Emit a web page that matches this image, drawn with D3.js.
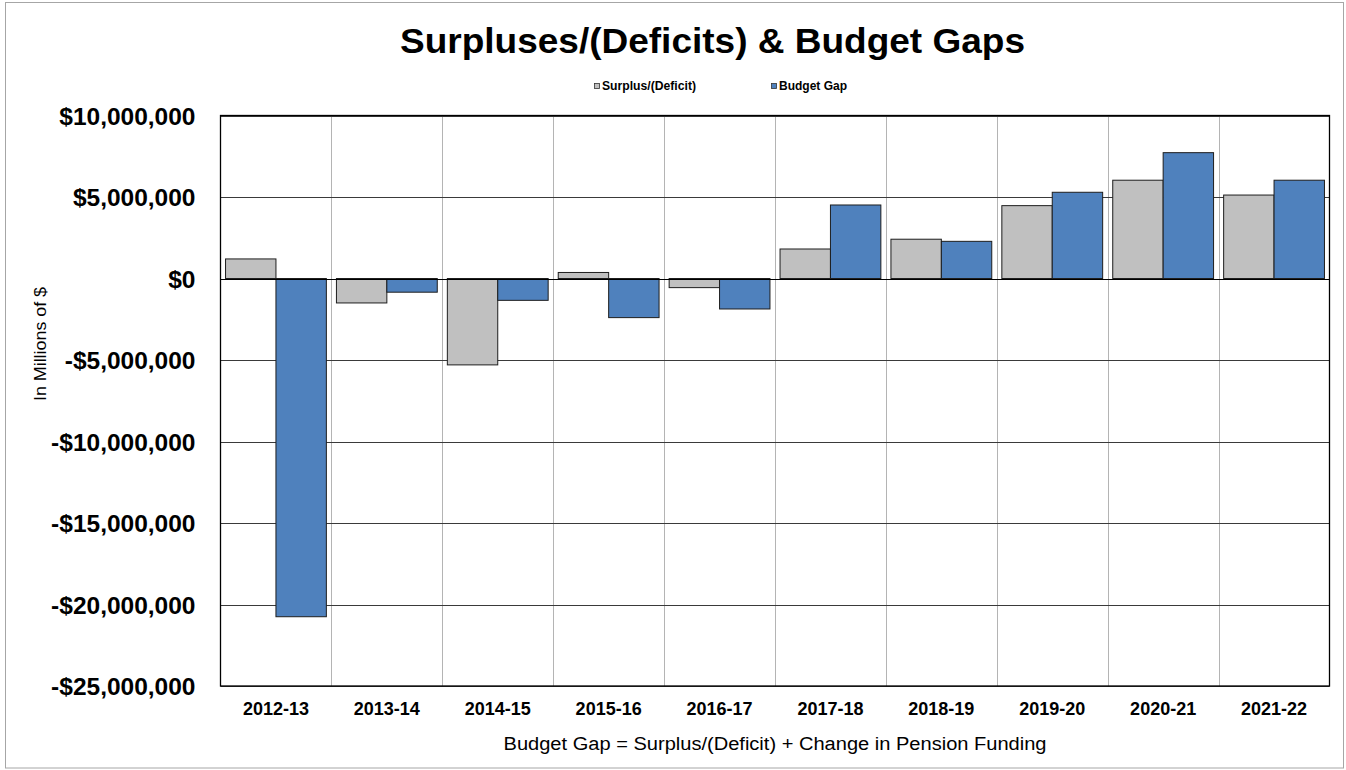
<!DOCTYPE html>
<html>
<head>
<meta charset="utf-8">
<script src="https://cdn.jsdelivr.net/npm/d3@7"></script>
<style>
  html, body { margin: 0; padding: 0; background: #fff; }
  svg { display: block; font-family: "Liberation Sans", Arial, sans-serif; }
</style>
</head>
<body>
<svg id="chart" width="1346" height="770"></svg>
<script>
// Fiscal years shown along the category axis
const years = ["2012-13", "2013-14", "2014-15", "2015-16", "2016-17",
               "2017-18", "2018-19", "2019-20", "2020-21", "2021-22"];

// Series values, in dollars
const surplusDeficit = [1200000, -1500000, -5300000, 370000, -560000,
                        1810000, 2410000, 4470000, 6030000, 5120000];
const budgetGap = [-20750000, -840000, -1340000, -2400000, -1870000,
                   4510000, 2280000, 5290000, 7720000, 6030000];

const seriesNames = ["Surplus/(Deficit)", "Budget Gap"];
const seriesColors = ["#c0c0c0", "#4f81bd"];

// Value-axis ticks
const yTicks = [10000000, 5000000, 0, -5000000, -10000000, -15000000, -20000000, -25000000];

const svg = d3.select("#chart");
const W = 1346, H = 770;
const plot = { left: 220.5, right: 1329.5, top: 115.5, bottom: 686 };

// Outer chart frame
svg.append("rect")
  .attr("x", 5.5).attr("y", 2.5)
  .attr("width", W - 8).attr("height", H - 2.5 - 2)
  .attr("fill", "#fff").attr("stroke", "#a6a6a6").attr("stroke-width", 1);

const x0 = d3.scaleBand().domain(years).range([plot.left, plot.right]).padding(0);
const x1 = d3.scaleBand().domain(seriesNames).range([0, x0.bandwidth()])
  .paddingInner(0).paddingOuter(0.1);
const y = d3.scaleLinear().domain([-25000000, 10000000]).range([plot.bottom, plot.top]);

const fmt = v => (v < 0 ? "-$" : "$") + d3.format(",")(Math.abs(v));

// Vertical category separators
svg.append("g").selectAll("line")
  .data(years.slice(1))
  .join("line")
  .attr("x1", d => Math.round(x0(d)) + 0.5).attr("x2", d => Math.round(x0(d)) + 0.5)
  .attr("y1", plot.top).attr("y2", plot.bottom)
  .attr("stroke", "#b4b4b4").attr("stroke-width", 1);

// Horizontal gridlines
svg.append("g").selectAll("line")
  .data(yTicks)
  .join("line")
  .attr("x1", plot.left).attr("x2", plot.right)
  .attr("y1", d => Math.round(y(d)) + 0.5).attr("y2", d => Math.round(y(d)) + 0.5)
  .attr("stroke", "#3a3a3a").attr("stroke-width", 1);

// Bars
const rows = years.map((yr, i) => ({ year: yr, values: [surplusDeficit[i], budgetGap[i]] }));
const groups = svg.append("g").selectAll("g")
  .data(rows)
  .join("g")
  .attr("transform", d => `translate(${x0(d.year)},0)`);

groups.selectAll("rect")
  .data(d => d.values.map((v, k) => ({ v, k })))
  .join("rect")
  .attr("x", d => x1(seriesNames[d.k]))
  .attr("width", x1.bandwidth())
  .attr("y", d => y(Math.max(0, d.v)))
  .attr("height", d => Math.abs(y(d.v) - y(0)))
  .attr("fill", d => seriesColors[d.k])
  .attr("stroke", "#1e1e1e").attr("stroke-width", 1);

// Zero line
svg.append("line")
  .attr("x1", plot.left).attr("x2", plot.right)
  .attr("y1", Math.round(y(0)) + 0.5).attr("y2", Math.round(y(0)) + 0.5)
  .attr("stroke", "#000").attr("stroke-width", 1.2);

// Plot frame
svg.append("rect")
  .attr("x", plot.left).attr("y", plot.top)
  .attr("width", plot.right - plot.left).attr("height", plot.bottom - plot.top)
  .attr("fill", "none").attr("stroke", "#000").attr("stroke-width", 1.3);

// Value axis labels
const yAxis = d3.axisLeft(y).tickValues(yTicks).tickFormat(fmt).tickSize(0).tickPadding(0);
const yg = svg.append("g").attr("transform", `translate(${plot.left - 25},0)`).call(yAxis);
yg.select(".domain").remove();
yg.selectAll("text")
  .attr("font-family", "'Liberation Sans', Arial, sans-serif")
  .attr("font-size", 24.5).attr("font-weight", "bold").attr("fill", "#000")
  .attr("dy", "0.35em");

// Category axis labels
const xAxis = d3.axisBottom(x0).tickSize(0).tickPadding(0);
const xg = svg.append("g").attr("transform", `translate(0,${plot.bottom})`).call(xAxis);
xg.select(".domain").remove();
xg.selectAll("text")
  .attr("font-family", "'Liberation Sans', Arial, sans-serif")
  .attr("font-size", 18).attr("font-weight", "bold").attr("fill", "#000")
  .attr("y", 29).attr("dy", 0);

// Title
svg.append("text")
  .attr("x", 712.5).attr("y", 53)
  .attr("text-anchor", "middle")
  .attr("font-size", 35).attr("font-weight", "bold")
  .attr("textLength", 625).attr("lengthAdjust", "spacingAndGlyphs")
  .text("Surpluses/(Deficits) & Budget Gaps");

// Legend
const legendItems = [
  { name: seriesNames[0], color: seriesColors[0], x: 594, w: 94 },
  { name: seriesNames[1], color: seriesColors[1], x: 771, w: 68 }
];
const lg = svg.append("g").selectAll("g").data(legendItems).join("g")
  .attr("transform", d => `translate(${d.x},0)`);
lg.append("rect")
  .attr("x", 0.5).attr("y", 83.5).attr("width", 5).attr("height", 5)
  .attr("fill", d => d.color).attr("stroke", "#333").attr("stroke-width", 0.8);
lg.append("text")
  .attr("x", 8).attr("y", 90)
  .attr("font-size", 12).attr("font-weight", "bold")
  .attr("textLength", d => d.w).attr("lengthAdjust", "spacingAndGlyphs")
  .text(d => d.name);

// Value axis title
svg.append("text")
  .attr("transform", "translate(46,344) rotate(-90)")
  .attr("text-anchor", "middle")
  .attr("font-family", "'Liberation Sans Narrow', 'Arial Narrow', 'Liberation Sans', sans-serif")
  .attr("font-size", 16)
  .attr("textLength", 114).attr("lengthAdjust", "spacingAndGlyphs")
  .text("In Millions of $");

// Footnote under the category axis
svg.append("text")
  .attr("x", (plot.left + plot.right) / 2).attr("y", 749.5)
  .attr("text-anchor", "middle")
  .attr("font-size", 18)
  .attr("textLength", 543).attr("lengthAdjust", "spacingAndGlyphs")
  .text("Budget Gap = Surplus/(Deficit) + Change in Pension Funding");
</script>
</body>
</html>
